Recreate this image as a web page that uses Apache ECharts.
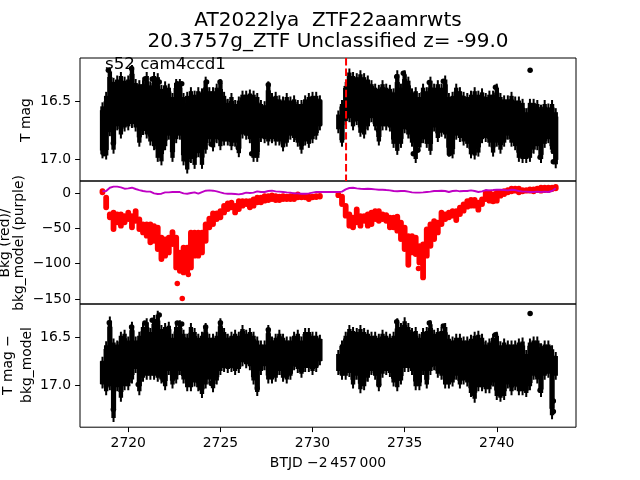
<!DOCTYPE html>
<html><head><meta charset="utf-8">
<style>html,body{margin:0;padding:0;background:#fff}#c{width:640px;height:480px}</style>
<script src="https://cdn.jsdelivr.net/npm/echarts@6/dist/echarts.min.js"></script>
</head><body><div id="c"></div>
<script>
const titleLine1 = "AT2022lya  ZTF22aamrwts";
const titleLine2 = "20.3757g_ZTF Unclassified z= -99.0";
const sectorLabel = "s52 cam4ccd1";
const xLabel = "BTJD \u22122\u2009457\u2009000";
const xTicks = [2720,2725,2730,2735,2740];
const magTicks = [16.5,17.0];
const bkgTicks = [0,-50,-100,-150];
const markerTime = 2731.82;

const t1 = [2718.6,2718.8,2719.0,2719.2,2719.4,2719.6,2719.8,2720.0,2720.2,2720.4,2720.6,2720.8,2721.0,2721.2,2721.4,2721.6,2721.8,2722.0,2722.2,2722.4,2722.6,2722.8,2723.0,2723.2,2723.4,2723.6,2723.8,2724.0,2724.2,2724.4,2724.6,2724.8,2725.0,2725.2,2725.4,2725.6,2725.8,2726.0,2726.2,2726.4,2726.6,2726.8,2727.0,2727.2,2727.4,2727.6,2727.8,2728.0,2728.2,2728.4,2728.6,2728.8,2729.0,2729.2,2729.4,2729.6,2729.8,2730.0,2730.2,2730.4];
const t2 = [2731.4,2731.6,2731.8,2732.0,2732.2,2732.4,2732.6,2732.8,2733.0,2733.2,2733.4,2733.6,2733.8,2734.0,2734.2,2734.4,2734.6,2734.8,2735.0,2735.2,2735.4,2735.6,2735.8,2736.0,2736.2,2736.4,2736.6,2736.8,2737.0,2737.2,2737.4,2737.6,2737.8,2738.0,2738.2,2738.4,2738.6,2738.8,2739.0,2739.2,2739.4,2739.6,2739.8,2740.0,2740.2,2740.4,2740.6,2740.8,2741.0,2741.2,2741.4,2741.6,2741.8,2742.0,2742.2,2742.4,2742.6,2742.8,2743.0,2743.2];

const tmagHi1 = [16.51,16.42,16.21,16.30,16.28,16.25,16.29,16.28,16.19,16.31,16.32,16.32,16.25,16.33,16.25,16.26,16.36,16.33,16.35,16.43,16.31,16.31,16.43,16.42,16.38,16.41,16.38,16.39,16.29,16.38,16.38,16.35,16.31,16.42,16.48,16.43,16.49,16.46,16.41,16.41,16.40,16.41,16.43,16.49,16.50,16.33,16.43,16.42,16.45,16.46,16.43,16.46,16.45,16.49,16.49,16.45,16.43,16.42,16.42,16.45];
const tmagLo1 = [16.99,17.00,16.80,16.95,16.75,16.82,16.76,16.75,16.73,16.76,16.89,16.79,16.82,16.88,16.92,17.02,17.05,16.92,16.83,17.02,16.86,16.83,17.05,17.12,17.03,17.08,16.98,17.08,16.95,16.86,16.93,16.86,16.92,16.88,16.88,16.92,16.89,16.98,16.82,16.83,16.86,17.02,17.02,16.85,16.86,16.88,16.86,16.88,16.88,16.93,16.89,16.83,16.85,16.89,16.95,16.88,16.90,16.86,16.83,16.75];
const tmagHi2 = [16.58,16.49,16.335,16.22,16.25,16.26,16.235,16.26,16.28,16.32,16.35,16.36,16.32,16.35,16.36,16.39,16.235,16.35,16.235,16.29,16.39,16.38,16.43,16.35,16.38,16.29,16.35,16.32,16.35,16.28,16.43,16.42,16.35,16.38,16.42,16.43,16.41,16.38,16.41,16.39,16.43,16.41,16.41,16.35,16.43,16.45,16.45,16.42,16.46,16.46,16.48,16.56,16.48,16.48,16.49,16.53,16.49,16.52,16.49,16.56];
const tmagLo2 = [16.775,16.89,16.705,16.68,16.75,16.705,16.805,16.82,16.75,16.68,16.75,16.88,16.75,16.75,16.76,16.90,16.96,16.90,16.775,16.82,16.89,17.03,16.93,16.86,16.90,16.96,16.76,16.85,16.805,16.82,16.975,16.99,16.83,16.85,16.88,16.90,16.99,17.00,16.975,16.86,16.85,16.89,16.975,16.89,16.95,16.89,16.83,16.89,16.92,17.02,17.03,17.03,17.02,16.95,16.92,17.03,16.90,16.86,16.95,17.075];
const tmagDotT = [2718.92,2720.18,2720.9,2721.3,2721.68,2722.66,2722.9,2724.25,2724.98,2727.6,2726.7,2726.97,2718.68,2719.19,2725.97,2724.5,2721.9,2734.57,2734.93,2736.34,2737.1,2739.93,2741.81,2735.47,2735.71,2737.43,2743.07,2743.07,2742.35,2733.58];
const tmagDotV = [16.235,16.22,16.31,16.31,16.335,16.35,16.35,16.335,16.335,16.36,16.95,16.95,16.95,16.86,16.90,16.87,16.90,16.29,16.26,16.34,16.33,16.38,16.235,16.95,16.92,16.95,16.93,17.02,16.98,16.75];

const bkgHi1 = [2.8,-6.6,-30.2,-27.9,-30.2,-30.2,-32.6,-27.9,-32.6,-25.5,-37.3,-44.4,-44.4,-44.4,-46.8,-49.1,-63.3,-65.6,-63.3,-55.3,-63.3,-84.5,-77.4,-77.4,-56.2,-56.2,-56.2,-56.2,-44.4,-36.4,-28.8,-28.8,-25.5,-18.4,-14.7,-13.7,-18.4,-11.4,-11.4,-11.4,-11.4,-9,-6.6,-6.6,-4.3,-4.3,-3.3,-4.3,-5.2,-4.3,-5.2,-4.3,-3.3,-1.9,-4.3,-5.2,-5.2,-5.2,-4.6,-4];
const bkgLo1 = [1,-20.3,-34.4,-51,-41.5,-46.2,-41.5,-36.8,-48.6,-39.2,-51,-55.7,-60.4,-69.8,-67.5,-79.3,-93.4,-88.7,-84,-72.2,-105.2,-110,-112.3,-110,-105.2,-88.7,-88.7,-84,-67.5,-48.6,-43.9,-36.8,-34.4,-27.4,-22.6,-20.3,-27.4,-22.6,-17.9,-15.6,-20.3,-17.9,-13.2,-13.2,-10.8,-9.9,-8.5,-9.9,-9.9,-8.5,-8.5,-8.5,-8.5,-6.1,-6.1,-6.1,-8.5,-6.1,-5.8,-5];
const bkgHi2 = [-2,-5.2,-18.4,-30.2,-35,-23.2,-32.6,-32.6,-30.2,-27.9,-25.5,-25.5,-30.2,-31.2,-35,-35,-33.5,-42,-49.1,-60.9,-60.9,-63.3,-75.1,-72.7,-51.5,-44.4,-39.7,-42,-27.9,-30.2,-27.9,-25.5,-25.5,-20.8,-16.1,-11.4,-9.9,-9.9,-13.7,-9,0.4,0.4,-1.9,0.4,1.4,2.8,4.2,6.1,6.1,6.1,4.2,4.2,5.2,5.2,6.1,7.5,7.5,7.5,7.5,8.5];
const bkgLo2 = [-3,-15.6,-32.1,-46.2,-48.6,-41.5,-46.2,-39.2,-46.2,-43.9,-36.8,-39.2,-36.8,-39.2,-48.6,-48.6,-53.3,-65.1,-79.3,-101.5,-84,-86.4,-98.2,-119.4,-88.7,-74.6,-65.1,-55.7,-43.9,-36.8,-34.4,-32.1,-38.2,-29.7,-25,-19.3,-17.9,-17.9,-23.6,-15.6,-8.5,-10.8,-11.8,-10.8,-3.8,-1.4,1,2.4,3.3,1,2.4,3.3,3.3,2.4,4.3,3.3,4.3,4.3,5.7,6.6];
const bkgDotT = [2722.66,2722.93,2723.26,2735.75];
const bkgDotV = [-127.9,-149.2,-115.2,-106.7];
const modelV1 = [2.4,2.8,7.5,9,9,8,6.1,6.6,7.5,5.7,4.2,2.8,1.9,1.9,-0.5,-1.4,-1,0.9,0.9,1.4,1.4,1.4,-0.5,-1,0,0.9,-1,1.4,3.3,3.8,3.3,2.4,0.9,-0.5,-1,-1,-1.4,-1.9,-1,0.5,0,0.5,2.4,1.4,1.4,2.8,3.3,2.4,1.9,1.4,0.9,0.5,-0.5,-0.5,-1,-1,-0.5,0.5,1.4,1.4];
const modelV2 = [1.4,1.9,5.2,7.1,7.5,6.6,6.1,5.7,6.1,5.7,5.2,4.7,4.7,4.2,3.8,2.8,2.4,2.8,2.8,1.9,0.9,0.5,0.5,0.9,1.4,1.9,2.8,2.8,3.3,2.8,1.4,2.8,3.3,2.4,2.8,2.8,3.8,2.8,1.4,2.4,4.2,3.8,4.2,4.7,4.7,4.2,3.8,4.7,4.2,2.8,1.9,1.9,1.4,1.4,1.9,1.4,1.9,1.4,2.8,6.6];

const dmagHi1 = [16.70,16.54,16.28,16.51,16.53,16.44,16.42,16.49,16.335,16.49,16.44,16.35,16.30,16.40,16.265,16.22,16.37,16.35,16.335,16.46,16.35,16.32,16.42,16.46,16.35,16.40,16.46,16.44,16.35,16.46,16.46,16.44,16.30,16.40,16.46,16.44,16.42,16.44,16.37,16.42,16.40,16.44,16.49,16.53,16.53,16.37,16.49,16.46,16.42,16.46,16.49,16.49,16.44,16.42,16.49,16.40,16.40,16.44,16.44,16.47];
const dmagLo1 = [17.03,17.10,17.05,17.38,17.06,17.17,17.05,17.05,16.98,16.87,17.10,16.96,16.94,16.94,16.94,16.96,16.98,17.05,16.89,17.03,16.98,16.89,16.98,17.06,17.06,17.01,17.06,17.13,17.03,16.98,17.07,16.99,16.89,16.86,16.87,16.86,16.89,16.87,16.80,16.82,16.84,16.99,17.11,16.89,16.84,16.98,16.98,16.96,16.89,16.96,16.98,16.94,16.84,16.87,16.92,16.86,16.86,16.89,16.86,16.79];
const dmagHi2 = [16.63,16.53,16.44,16.37,16.39,16.40,16.37,16.40,16.42,16.44,16.44,16.46,16.42,16.44,16.46,16.44,16.30,16.35,16.29,16.35,16.40,16.39,16.46,16.40,16.39,16.32,16.42,16.40,16.39,16.35,16.47,16.49,16.46,16.46,16.49,16.49,16.47,16.44,16.43,16.46,16.53,16.51,16.46,16.44,16.54,16.51,16.53,16.53,16.53,16.51,16.50,16.63,16.51,16.49,16.49,16.56,16.53,16.53,16.58,16.65];
const dmagLo2 = [16.89,16.94,16.94,16.91,17.03,16.94,17.08,17.05,16.96,16.89,16.94,17.06,16.92,16.89,16.91,17.01,17.06,16.99,16.86,16.86,16.89,17.05,17.05,16.89,17.03,16.89,16.84,16.92,16.94,17.03,17.03,17.01,16.94,17.03,16.99,17.01,17.12,17.18,17.06,17.06,17.08,17.08,17.01,17.15,17.17,17.15,17.03,17.10,17.05,17.10,17.10,17.12,17.05,16.94,16.98,17.12,16.94,16.92,17.35,16.94];
const dmagDotT = [2718.97,2719.19,2720.18,2721.68,2721.3,2720.9,2722.66,2722.9,2724.2,2725,2727.6,2727,2723.98,2721.9,2720.54,2724.5,2734.57,2736.34,2737.1,2739.93,2741.81,2743.07,2743.07,2742.35,2733.6,2738.7,2740.19];
const dmagDotV = [16.345,17.25,16.39,16.265,16.32,16.35,16.35,16.36,16.39,16.345,16.42,17.03,17.03,16.94,16.99,16.98,16.335,16.35,16.38,16.47,16.25,17.16,17.27,17.05,16.99,17.08,17.09];

const zip3 = (a,b,c)=>a.map((v,i)=>[v,b[i],c[i]]);
const zip2 = (a,b)=>a.map((v,i)=>[v,b[i]]);
const font = 'DejaVu Sans';

function blackBar(params, api){
  const top = api.coord([api.value(0), api.value(1)]);
  const bot = api.coord([api.value(0), api.value(2)]);
  const h = bot[1]-top[1];
  const kids = [{type:'line',shape:{x1:top[0],y1:top[1],x2:bot[0],y2:bot[1]},style:{stroke:'#000',lineWidth:2}}];
  if (h > 8) kids.push({type:'rect',shape:{x:top[0]-2.2,y:top[1]+4,width:4.4,height:h-8},style:{fill:'#000'}});
  if (h > 30) kids.push({type:'rect',shape:{x:top[0]-2.6,y:top[1]+h*0.14,width:5.2,height:h*0.72},style:{fill:'#000'}});
  return {type:'group',children:kids};
}
function redBar(params, api){
  const a = api.coord([api.value(0), api.value(1)]);
  const b = api.coord([api.value(0), api.value(2)]);
  return {type:'line',shape:{x1:a[0],y1:a[1],x2:b[0],y2:b[1]},style:{stroke:'#f00',lineWidth:5.8,lineCap:'round'}};
}
const barSeries = (idx,fn,data)=>({type:'custom',xAxisIndex:idx,yAxisIndex:idx,renderItem:fn,data,clip:true,encode:{x:0,y:[1,2]},silent:true,animation:false});
const dots = (idx,data,color,size)=>({type:'scatter',xAxisIndex:idx,yAxisIndex:idx,data,symbol:'circle',symbolSize:size,itemStyle:{color,opacity:1},silent:true,animation:false});
const purple = (data)=>({type:'line',xAxisIndex:1,yAxisIndex:1,data,showSymbol:false,lineStyle:{color:'#bf00c4',width:1.9},z:5,silent:true,animation:false});

const xa = (idx,show)=>({type:'value',gridIndex:idx,min:2717.38,max:2744.3,
  axisLine:{show:false},splitLine:{show:false},
  axisTick:{show,length:4.9,customValues:xTicks,lineStyle:{color:'#000',width:1}},
  axisLabel:{show,customValues:xTicks,color:'#000',fontFamily:font,fontSize:13.9,margin:9,formatter:v=>String(v)}});
const ya = (idx,min,max,ticks,inverse,fmt)=>({type:'value',gridIndex:idx,min,max,inverse,
  axisLine:{show:false},splitLine:{show:false},
  axisTick:{show:true,length:4.9,customValues:ticks,lineStyle:{color:'#000',width:1}},
  axisLabel:{show:true,customValues:ticks,color:'#000',fontFamily:font,fontSize:13.9,margin:9,formatter:fmt}});

const txt = (x,y,text,size,rot,align)=>({type:'text',x,y,rotation:rot||0,z:50,style:{text,fontFamily:font,fontSize:size,fill:'#000',align:align||'center',verticalAlign:'middle'}});
const R = Math.PI/2;

const chart = echarts.init(document.getElementById('c'),null,{renderer:'canvas'});
chart.setOption({
  animation:false,
  backgroundColor:'#fff',
  grid:[
    {left:80,width:496,top:58,height:123,show:true,borderColor:'#000',borderWidth:1,backgroundColor:'transparent'},
    {left:80,width:496,top:181,height:123,show:true,borderColor:'#000',borderWidth:1,backgroundColor:'transparent'},
    {left:80,width:496,top:304,height:123.2,show:true,borderColor:'#000',borderWidth:1,backgroundColor:'transparent'}
  ],
  xAxis:[xa(0,false),xa(1,false),xa(2,true)],
  yAxis:[
    ya(0,16.13,17.184,magTicks,true,v=>v.toFixed(1)),
    ya(1,-157,17,bkgTicks,false,v=>String(v).replace('-','\u2212')),
    ya(2,16.151,17.434,magTicks,true,v=>v.toFixed(1))
  ],
  series:[
    barSeries(0,blackBar,zip3(t1,tmagHi1,tmagLo1)),
    barSeries(0,blackBar,zip3(t2,tmagHi2,tmagLo2)),
    dots(0,zip2(tmagDotT,tmagDotV),'#000',5.5),
    {type:'line',xAxisIndex:0,yAxisIndex:0,data:[[markerTime,16.13],[markerTime,17.184]],showSymbol:false,lineStyle:{color:'#f00',width:2,type:[7.4,3.2]},z:6,silent:true,animation:false},
    barSeries(1,redBar,zip3(t1,bkgHi1,bkgLo1)),
    barSeries(1,redBar,zip3(t2,bkgHi2,bkgLo2)),
    dots(1,zip2(bkgDotT,bkgDotV),'#f00',5.5),
    purple(zip2(t1.concat(t2),modelV1.concat(modelV2))),
    barSeries(2,blackBar,zip3(t1,dmagHi1,dmagLo1)),
    barSeries(2,blackBar,zip3(t2,dmagHi2,dmagLo2)),
    dots(2,zip2(dmagDotT,dmagDotV),'#000',5.5)
  ],
  graphic:[
    txt(328,21,titleLine1,20),
    txt(328,42,titleLine2,20),
    txt(105,65,sectorLabel,16.67,0,'left'),
    txt(26,120,"T mag",13.9,R),
    txt(5,243,"Bkg (red)/",13.9,R),
    txt(19,243,"bkg_model (purple)",13.9,R),
    txt(8,365,"T mag \u2212",13.9,R),
    txt(27,365,"bkg_model",13.9,R),
    txt(328,463,xLabel,13.9)
  ]
});
</script></body></html>
